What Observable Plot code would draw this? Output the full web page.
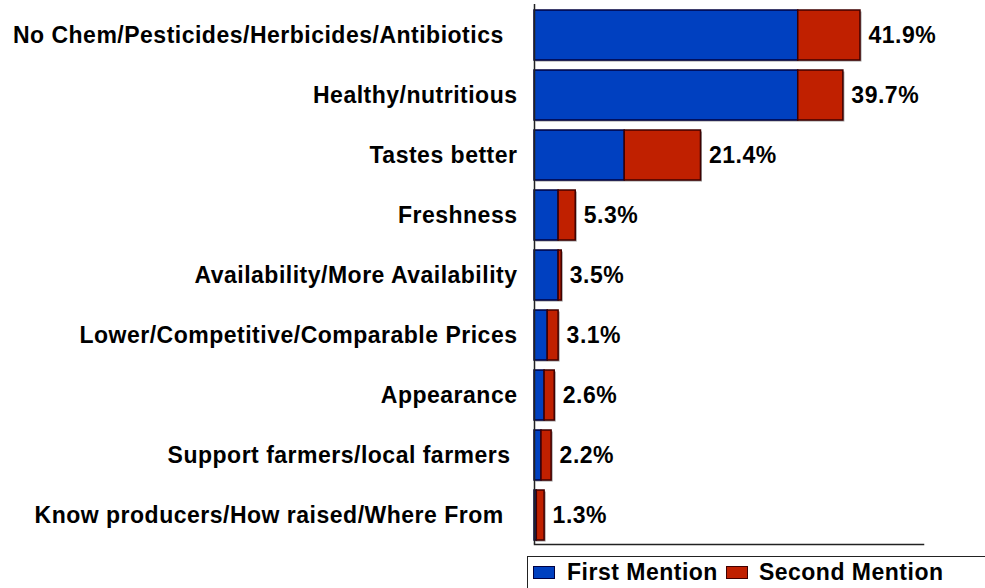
<!DOCTYPE html>
<html>
<head>
<meta charset="utf-8">
<script src="https://cdn.jsdelivr.net/npm/d3@7"></script>
<script src="https://cdn.jsdelivr.net/npm/@observablehq/plot@0.6"></script>
<style>
  html, body { margin: 0; padding: 0; background: #fff; }
  body { width: 985px; height: 588px; position: relative; overflow: hidden;
         font-family: "Liberation Sans", Arial, sans-serif; }
  #chart svg text { letter-spacing: 0.5px; }
  #legend { position: absolute; left: 527px; top: 556px; width: 470px; height: 40px;
            border: 1.5px solid #222; box-sizing: border-box; display: flex; align-items: center;
            font-size: 23px; font-weight: bold; letter-spacing: 0.5px; color: #000; padding-bottom: 8px; }
  .sw { width: 22px; height: 13px; box-sizing: border-box; display: inline-block; }
</style>
</head>
<body>
<div id="chart"></div>
<div id="legend">
  <span class="sw" style="background:#0040C0;border:1.5px solid #000040;margin-left:5px;"></span>
  <span style="margin-left:12px;">First Mention</span>
  <span class="sw" style="background:#C02000;border:1.5px solid #400000;margin-left:8px;"></span>
  <span style="margin-left:11px;">Second Mention</span>
</div>
<script>
const categories = [
  "No Chem/Pesticides/Herbicides/Antibiotics  ",
  "Healthy/nutritious",
  "Tastes better",
  "Freshness",
  "Availability/More Availability",
  "Lower/Competitive/Comparable Prices",
  "Appearance",
  "Support farmers/local farmers ",
  "Know producers/How raised/Where From  "
];
const firstMention  = [33.9, 33.9, 11.6, 3.1, 3.1, 1.7, 1.3, 0.9, 0.3];
const secondMention = [8.0, 5.8, 9.8, 2.2, 0.4, 1.4, 1.3, 1.3, 1.0];
const totalLabels   = ["41.9%", "39.7%", "21.4%", "5.3%", "3.5%", "3.1%", "2.6%", "2.2%", "1.3%"];

const rows = categories.map((c, i) => ({
  cat: c,
  first: firstMention[i],
  second: secondMention[i],
  total: firstMention[i] + secondMention[i],
  label: totalLabels[i]
}));

const fmt = d => d.replace(/ +$/, m => "\u00A0".repeat(m.length));

const plot = Plot.plot({
  width: 985,
  height: 548,
  marginLeft: 534,
  marginRight: 62,
  marginTop: 4,
  marginBottom: 4,
  style: { fontSize: "23px", fontWeight: "bold", fontFamily: "'Liberation Sans', Arial, sans-serif", color: "#000", background: "#fff" },
  x: { domain: [0, 50], axis: null },
  y: { domain: categories, paddingInner: 1 / 6, paddingOuter: 1 / 12, align: 0.6, label: null },
  marks: [
    Plot.barX(rows, { x1: 0, x2: "total", y: "cat", fill: "#999", dx: 1.5, dy: 1.5 }),
    Plot.barX(rows, { x1: 0, x2: "first", y: "cat", fill: "#0040C0", stroke: "#000040", strokeWidth: 1.5 }),
    Plot.barX(rows, { x1: "first", x2: "total", y: "cat", fill: "#C02000", stroke: "#400000", strokeWidth: 1.5 }),
    Plot.text(rows, { x: "total", y: "cat", text: "label", dx: 8, textAnchor: "start", fontSize: 23, fontWeight: "bold", fill: "#000" }),
    Plot.axisY({ tickSize: 0, tickPadding: 17, tickFormat: fmt, fontSize: 23, fontWeight: "bold", fill: "#000", label: null }),
    Plot.ruleX([0], { stroke: "#222", strokeWidth: 1.5 }),
    Plot.frame({ anchor: "bottom", stroke: "#222", strokeWidth: 1.5 })
  ]
});
document.getElementById("chart").appendChild(plot);
</script>
</body>
</html>
